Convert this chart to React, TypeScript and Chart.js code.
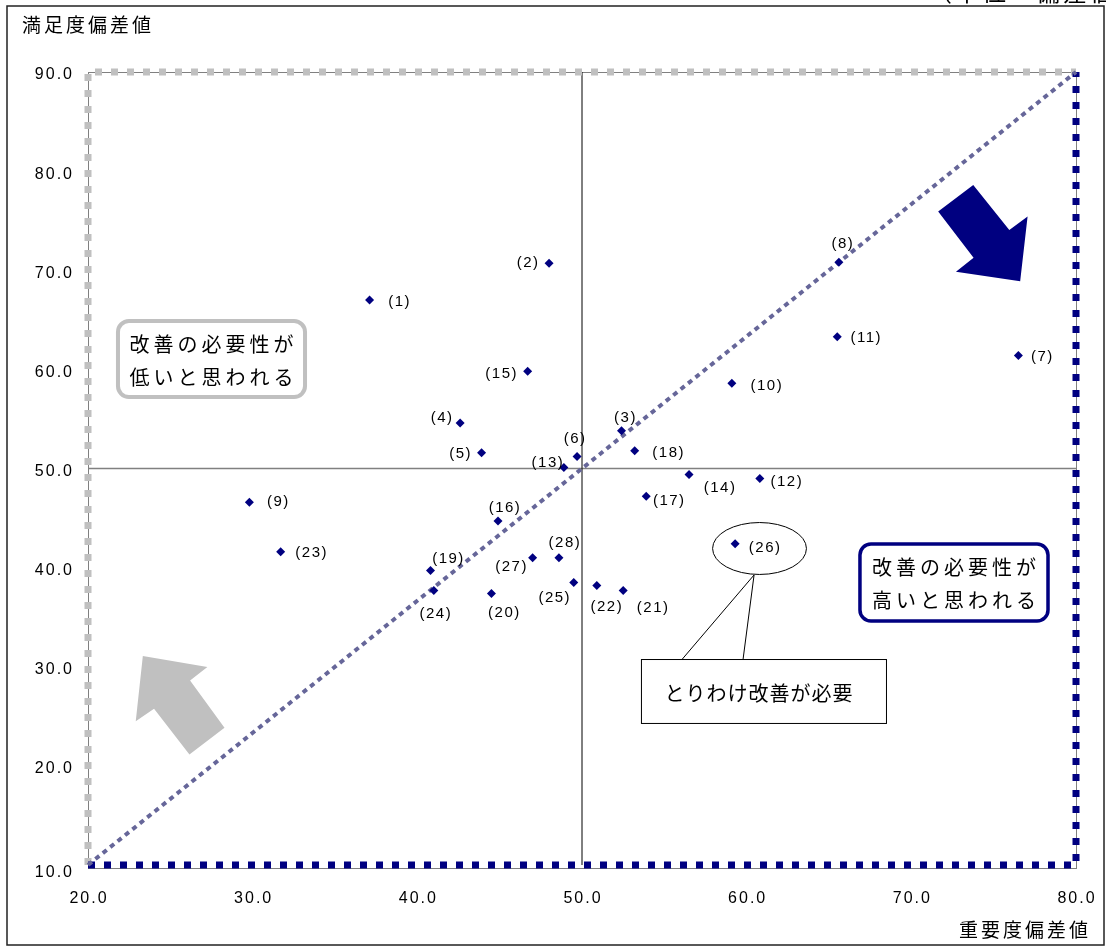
import React, { useEffect, useRef } from 'react';
import { Chart, registerables } from 'chart.js';

Chart.register(...registerables);

// ---- data ----
const itemNumbers = [1, 2, 3, 4, 5, 6, 7, 8, 9, 10, 11, 12, 13, 14, 15, 16, 17, 18, 19, 20, 21, 22, 23, 24, 25, 26, 27, 28];
const importance = [37.1, 48.0, 52.4, 42.6, 43.9, 49.7, 76.5, 65.6, 29.8, 59.1, 65.5, 60.8, 48.9, 56.5, 46.7, 44.9, 53.9, 53.2, 40.8, 44.5, 52.5, 50.9, 31.7, 41.0, 49.5, 59.3, 47.0, 48.6];
const satisfaction = [67.0, 70.7, 53.8, 54.6, 51.6, 51.2, 61.4, 70.8, 46.6, 58.6, 63.3, 49.0, 50.1, 49.4, 59.8, 44.7, 47.2, 51.8, 39.7, 37.4, 37.7, 38.2, 41.6, 37.7, 38.5, 42.4, 41.0, 41.0];
const xTickValues = [20, 30, 40, 50, 60, 70, 80];
const yTickValues = [10, 20, 30, 40, 50, 60, 70, 80, 90];
const xTitle = '重要度偏差値';
const yTitle = '満足度偏差値';
const unitText = '（単位：偏差値）';
const lowNeedText = ['改善の必要性が', '低いと思われる'];
const highNeedText = ['改善の必要性が', '高いと思われる'];
const calloutText = 'とりわけ改善が必要';

// ---- label placement (pixel offset of label centre from its point) ----
const labelOffsetPx: [number, number][] = [
  [29, 2], [-22, 0], [3, -13], [-19, -5], [-22, 1], [-3, -18], [23, 1], [3, -18], [28, 0], [34, 3],
  [28, 1], [26, 3], [-17, -5], [30, 13], [-27, 3], [6, -13], [22, 5], [33, 2], [17, -12], [12, 19],
  [29, 17], [9, 21], [30, 1], [1, 23], [-20, 15], [29, 4], [-22, 9], [5, -15],
];

// ---- annotation geometry in data units ----
const navyArrow: [number, number][] = [[71.63, 75.92], [73.76, 78.6], [75.95, 74.05], [77.06, 75.41], [76.61, 68.9], [72.71, 69.85], [73.78, 71.26]];
const grayArrow: [number, number][] = [[23.33, 31.08], [27.25, 29.97], [26.2, 28.62], [28.29, 23.84], [26.16, 21.14], [24.01, 25.76], [22.9, 24.51]];
const lowBox = { x1: 21.82, x2: 33.18, y1: 64.88, y2: 57.21 };
const highBox = { x1: 66.88, x2: 78.3, y1: 42.38, y2: 34.62 };
const focusEllipse = { cx: 60.78, cy: 41.93, rx: 2.85, ry: 2.62 };
const calloutBox = { x1: 53.58, x2: 68.46, y1: 30.78, y2: 24.33 };
const calloutTail = { ax: 56.07, bx: 59.78, baseY: 30.78, tipX: 60.45, tipY: 39.26 };

const NAVY = '#000080';
const CJK = '"Noto Sans CJK JP", sans-serif';
const LATIN = '"Liberation Sans", Arial, sans-serif';

function roundRect(ctx: CanvasRenderingContext2D, x: number, y: number, w: number, h: number, r: number) {
  ctx.beginPath();
  ctx.moveTo(x + r, y);
  ctx.lineTo(x + w - r, y);
  ctx.arcTo(x + w, y, x + w, y + r, r);
  ctx.lineTo(x + w, y + h - r);
  ctx.arcTo(x + w, y + h, x + w - r, y + h, r);
  ctx.lineTo(x + r, y + h);
  ctx.arcTo(x, y + h, x, y + h - r, r);
  ctx.lineTo(x, y + r);
  ctx.arcTo(x, y, x + r, y, r);
  ctx.closePath();
}

const decorPlugin = {
  id: 'decor',
  beforeDatasetsDraw(chart: any) {
    const { ctx, chartArea } = chart;
    ctx.save();
    ctx.strokeStyle = '#808080';
    ctx.lineWidth = 1;
    ctx.strokeRect(chartArea.left + 0.5, chartArea.top + 0.5, chartArea.right - chartArea.left, chartArea.bottom - chartArea.top + 3);
    ctx.restore();
  },
  afterDatasetsDraw(chart: any) {
    const { ctx } = chart;
    const xs = chart.scales.x;
    const ys = chart.scales.y;
    const px = (v: number) => xs.getPixelForValue(v);
    const py = (v: number) => ys.getPixelForValue(v);
    ctx.save();

    // tick labels
    ctx.fillStyle = '#000';
    ctx.font = `16px ${LATIN}`;
    (ctx as any).letterSpacing = '2px';
    ctx.textBaseline = 'middle';
    ctx.textAlign = 'right';
    ys.ticks.forEach((t: any) => {
      const off = t.value === 10 ? 8 : 3;
      ctx.fillText(Number(t.value).toFixed(1), xs.left - 14, py(t.value) + off);
    });
    ctx.textAlign = 'center';
    xs.ticks.forEach((t: any) => {
      ctx.fillText(Number(t.value).toFixed(1), px(t.value) + 1, ys.bottom + 34);
    });

    // point labels
    ctx.font = `15px ${LATIN}`;
    (ctx as any).letterSpacing = '1.5px';
    ctx.textAlign = 'center';
    itemNumbers.forEach((n, i) => {
      const [dx, dy] = labelOffsetPx[i];
      ctx.fillText(`(${n})`, px(importance[i]) + dx + 1, py(satisfaction[i]) + dy);
    });

    // axis titles
    ctx.font = `19px ${CJK}`;
    (ctx as any).letterSpacing = '3px';
    ctx.textAlign = 'left';
    ctx.fillText(yTitle, 22, 25);
    ctx.textAlign = 'right';
    ctx.fillText(xTitle, 1091, 930);

    // unit text (clipped at top)
    ctx.font = `24px ${CJK}`;
    (ctx as any).letterSpacing = '3px';
    ctx.textAlign = 'left';
    ctx.textBaseline = 'alphabetic';
    ctx.fillText(unitText, 928, 1);

    // arrows
    const poly = (pts: [number, number][], color: string) => {
      ctx.beginPath();
      pts.forEach(([a, b], k) => (k ? ctx.lineTo(px(a), py(b)) : ctx.moveTo(px(a), py(b))));
      ctx.closePath();
      ctx.fillStyle = color;
      ctx.fill();
    };
    poly(navyArrow, NAVY);
    poly(grayArrow, '#c0c0c0');

    // rounded text boxes
    const textBox = (b: any, color: string, lw: number, lines: string[]) => {
      const x1 = px(b.x1), x2 = px(b.x2), y1 = py(b.y1), y2 = py(b.y2);
      roundRect(ctx, x1, y1, x2 - x1, y2 - y1, 11);
      ctx.fillStyle = '#fff';
      ctx.fill();
      ctx.strokeStyle = color;
      ctx.lineWidth = lw;
      ctx.stroke();
      ctx.fillStyle = '#000';
      ctx.font = `20px ${CJK}`;
      (ctx as any).letterSpacing = '4px';
      ctx.textAlign = 'left';
      ctx.textBaseline = 'middle';
      const w = ctx.measureText(lines[0]).width - 4;
      const cx = (x1 + x2) / 2;
      const cy = (y1 + y2) / 2;
      ctx.fillText(lines[0], cx - w / 2, cy - 15);
      ctx.fillText(lines[1], cx - w / 2, cy + 18);
    };
    textBox(lowBox, '#c0c0c0', 4, lowNeedText);
    textBox(highBox, NAVY, 3.5, highNeedText);

    // ellipse around (26)
    ctx.beginPath();
    const ecx = px(focusEllipse.cx), ecy = py(focusEllipse.cy);
    const erx = px(focusEllipse.cx + focusEllipse.rx) - ecx;
    const ery = ecy - py(focusEllipse.cy + focusEllipse.ry);
    ctx.ellipse(ecx, ecy, erx, ery, 0, 0, Math.PI * 2);
    ctx.strokeStyle = '#000';
    ctx.lineWidth = 1;
    ctx.stroke();

    // callout box with tail
    const cx1 = px(calloutBox.x1), cx2 = px(calloutBox.x2), cy1 = py(calloutBox.y1), cy2 = py(calloutBox.y2);
    ctx.fillStyle = '#fff';
    ctx.fillRect(cx1, cy1, cx2 - cx1, cy2 - cy1);
    ctx.strokeStyle = '#000';
    ctx.lineWidth = 1;
    ctx.strokeRect(cx1 + 0.5, cy1 + 0.5, cx2 - cx1, cy2 - cy1);
    ctx.beginPath();
    ctx.moveTo(px(calloutTail.ax), py(calloutTail.baseY) + 0.5);
    ctx.lineTo(px(calloutTail.tipX), py(calloutTail.tipY));
    ctx.lineTo(px(calloutTail.bx), py(calloutTail.baseY) + 0.5);
    ctx.stroke();
    ctx.fillStyle = '#000';
    ctx.font = `20px ${CJK}`;
    (ctx as any).letterSpacing = '1px';
    ctx.textAlign = 'left';
    ctx.textBaseline = 'middle';
    const tw = ctx.measureText(calloutText).width - 1;
    ctx.fillText(calloutText, (cx1 + cx2) / 2 - tw / 2 - 5, (cy1 + cy2) / 2 + 2);

    // outer frame
    (ctx as any).letterSpacing = '0px';
    ctx.strokeStyle = '#222';
    ctx.lineWidth = 1.5;
    ctx.strokeRect(7, 6, 1097, 939);
    ctx.restore();
  },
};

export default function App() {
  const ref = useRef<HTMLCanvasElement | null>(null);
  useEffect(() => {
    if (!ref.current) return;
    const points = importance.map((x, i) => ({ x, y: satisfaction[i] }));
    const lineBase = { showLine: true, pointRadius: 0, clip: false as any, borderCapStyle: 'butt' as const, borderJoinStyle: 'miter' as const, fill: false };
    const chart = new Chart(ref.current, {
      type: 'scatter',
      data: {
        datasets: [
          { label: 'items', data: points, pointStyle: 'rectRot', pointRadius: 4.5, pointBackgroundColor: NAVY, pointBorderColor: NAVY, pointBorderWidth: 0, order: 0 } as any,
          { ...lineBase, label: 'diagonal', data: [{ x: 20, y: 10 }, { x: 80, y: 90 }], borderColor: '#666699', borderWidth: 4, borderDash: [5, 4.5], order: 1 },
          { ...lineBase, label: 'low', data: [{ x: 20, y: 10 }, { x: 20, y: 90 }, { x: 80, y: 90 }], borderColor: '#c0c0c0', borderWidth: 7, borderDash: [7, 9], order: 3 },
          { ...lineBase, label: 'high', data: [{ x: 20, y: 10 }, { x: 80, y: 10 }, { x: 80, y: 90 }], borderColor: NAVY, borderWidth: 7, borderDash: [7, 9], order: 2 },
          { ...lineBase, label: 'vmid', data: [{ x: 50, y: 10 }, { x: 50, y: 90 }], borderColor: '#000', borderWidth: 1, order: 4 },
          { ...lineBase, label: 'hmid', data: [{ x: 20, y: 50 }, { x: 80, y: 50 }], borderColor: '#808080', borderWidth: 1.5, order: 5 },
        ],
      },
      options: {
        responsive: false,
        animation: false,
        devicePixelRatio: 1,
        layout: { padding: { top: 72, right: 30, bottom: 0, left: 0 } },
        plugins: { legend: { display: false }, tooltip: { enabled: false } },
        scales: {
          x: {
            type: 'linear', min: 20, max: 80,
            afterBuildTicks: (s: any) => { s.ticks = xTickValues.map((v) => ({ value: v })); },
            ticks: { display: false },
            grid: { display: false }, border: { display: false },
            afterFit: (s: any) => { s.height = 82; },
          },
          y: {
            type: 'linear', min: 10, max: 90,
            afterBuildTicks: (s: any) => { s.ticks = yTickValues.map((v) => ({ value: v })); },
            ticks: { display: false },
            grid: { display: false }, border: { display: false },
            afterFit: (s: any) => { s.width = 88; },
          },
        },
      },
      plugins: [decorPlugin],
    });
    return () => chart.destroy();
  }, []);
  return (
    <div style={{ position: 'absolute', left: 0, top: 0, width: 1106, height: 947, background: '#fff' }}>
      <canvas ref={ref} width={1106} height={947} style={{ display: 'block' }} />
    </div>
  );
}
